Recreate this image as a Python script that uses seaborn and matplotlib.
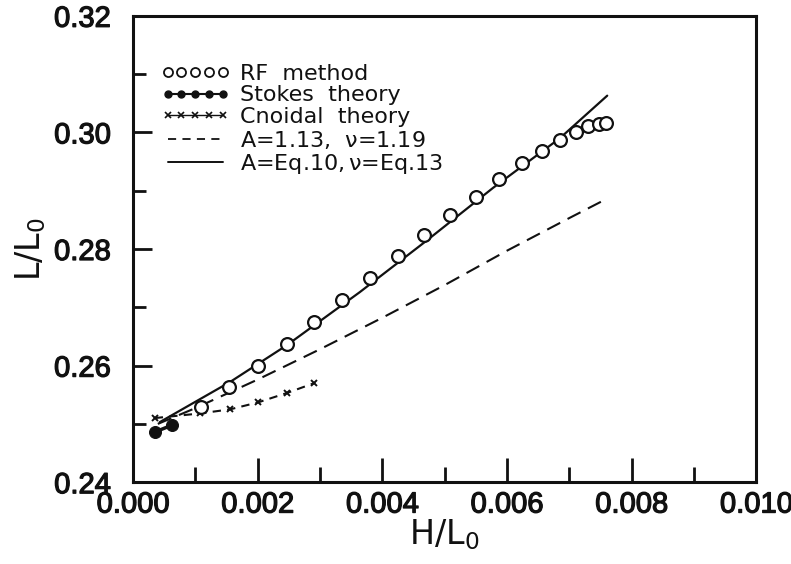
import matplotlib
matplotlib.use("Agg")
import matplotlib.pyplot as plt
from matplotlib.lines import Line2D
from matplotlib.ticker import MultipleLocator, FormatStrFormatter
import matplotlib.patheffects as pe
import seaborn as sns

# ---- data ----
rf_x = [0.00109, 0.00154, 0.00201, 0.00247, 0.00291, 0.00335, 0.00380, 0.00425,
        0.00467, 0.00509, 0.00551, 0.00587, 0.00624, 0.00657, 0.00685, 0.00711,
        0.00730, 0.00748, 0.00759]
rf_y = [0.2529, 0.2563, 0.2599, 0.2637, 0.2675, 0.2712, 0.2750, 0.2788,
        0.2824, 0.2858, 0.2889, 0.2920, 0.2948, 0.2968, 0.2987, 0.3001,
        0.3011, 0.3015, 0.3016]

stokes_x = [0.00035, 0.00063]
stokes_y = [0.2486, 0.2498]

cnoidal_x = [0.00035, 0.00108, 0.00156, 0.00201, 0.00247, 0.00291]
cnoidal_y = [0.2510, 0.2518, 0.2525, 0.2537, 0.2553, 0.2570]

a113_x = [0.0004, 0.0010, 0.0020, 0.0030, 0.0040, 0.0050, 0.0060, 0.0070, 0.0076]
a113_y = [0.2500, 0.2527, 0.2576, 0.2628, 0.2682, 0.2738, 0.2797, 0.2853, 0.2886]

eq_x = [0.00043, 0.00156, 0.00247, 0.00364, 0.00472, 0.00578, 0.00685, 0.00761]
eq_y = [0.2503, 0.2572, 0.2635, 0.2726, 0.2815, 0.2905, 0.2990, 0.3063]

legend_labels = ["RF  method", "Stokes  theory", "Cnoidal  theory",
                 "A=1.13,  $\\nu$=1.19", "A=Eq.10,$\\,\\nu$=Eq.13"]

# ---- styling ----
sns.set_theme(style="ticks")
plt.rcParams["font.family"] = ["DejaVu Sans"]
plt.rcParams["mathtext.fontset"] = "dejavusans"
plt.rcParams["mathtext.default"] = "regular"

fig, ax = plt.subplots(figsize=(7.91, 5.64), dpi=100)
fig.subplots_adjust(left=0.168, right=0.956, top=0.972, bottom=0.145)

k = "#111111"
sns.lineplot(x=eq_x, y=eq_y, ax=ax, color=k, lw=1.6, sort=False, estimator=None)
sns.lineplot(x=a113_x, y=a113_y, ax=ax, color=k, lw=1.5, sort=False,
             estimator=None, linestyle=(0, (7, 4)))
sns.lineplot(x=cnoidal_x, y=cnoidal_y, ax=ax, color=k, lw=1.5, sort=False,
             estimator=None, linestyle=(0, (4, 3)), marker="x", markersize=5,
             markeredgewidth=1.4, markeredgecolor=k)
sns.lineplot(x=stokes_x, y=stokes_y, ax=ax, color=k, lw=2.5, sort=False,
             estimator=None, marker="o", markersize=8.6, markeredgecolor=k)
sns.scatterplot(x=rf_x, y=rf_y, ax=ax, s=85, facecolor="white",
                edgecolor=k, linewidth=1.6, zorder=5)

ax.set_xlim(0, 0.010)
ax.set_ylim(0.24, 0.32)
ax.xaxis.set_major_locator(MultipleLocator(0.002))
ax.xaxis.set_minor_locator(MultipleLocator(0.001))
ax.yaxis.set_major_locator(MultipleLocator(0.02))
ax.yaxis.set_minor_locator(MultipleLocator(0.01))
ax.xaxis.set_major_formatter(FormatStrFormatter("%.3f"))
ax.yaxis.set_major_formatter(FormatStrFormatter("%.2f"))

for sp in ax.spines.values():
    sp.set_linewidth(2.2)
    sp.set_color(k)

ax.tick_params(which="both", direction="in", top=False, right=False,
               width=2, color=k)
ax.tick_params(axis="y", which="major", length=14, pad=16)
ax.tick_params(axis="y", which="minor", length=9)
ax.tick_params(axis="x", which="major", length=17, pad=6)
ax.tick_params(axis="x", which="minor", length=11)
for lab in ax.get_xticklabels() + ax.get_yticklabels():
    lab.set_fontfamily("Liberation Sans")
    lab.set_fontsize(21)
    lab.set_color(k)
    lab.set_path_effects([pe.withStroke(linewidth=0.9, foreground=k)])

ax.set_xlabel("H/L$_0$", fontsize=24, color=k, labelpad=-1)
ax.set_ylabel("L/L$_0$", fontsize=24, color=k, labelpad=4)

handles = [
    Line2D([], [], ls="none", marker="o", markersize=6.5, markerfacecolor="white",
           markeredgecolor=k, markeredgewidth=1.3),
    Line2D([], [], ls="-", lw=1.5, color=k, marker="o", markersize=5,
           markerfacecolor=k, markeredgecolor=k),
    Line2D([], [], ls="-", lw=1.0, color=k, marker="x", markersize=4,
           markeredgewidth=1.2),
    Line2D([], [], ls=(0, (4.5, 3.5)), lw=1.3, color=k),
    Line2D([], [], ls="-", lw=1.4, color=k),
]
leg = ax.legend(handles, legend_labels, loc="upper left",
                bbox_to_anchor=(0.045, 0.897), frameon=False, fontsize=16,
                numpoints=5, handlelength=3.1, handletextpad=0.45,
                labelspacing=0.07, borderpad=0, borderaxespad=0)
for t in leg.get_texts():
    t.set_color(k)

fig.savefig("out.png", dpi=100)
